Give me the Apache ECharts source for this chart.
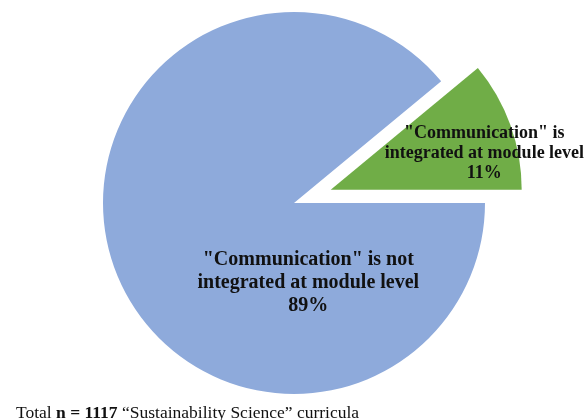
<!DOCTYPE html>
<html>
<head>
<meta charset="utf-8">
<script src="https://cdn.jsdelivr.net/npm/echarts@6/dist/echarts.min.js"></script>
<style>
html,body{margin:0;padding:0;background:#fff;}
#chart{width:588px;height:420px;}
</style>
</head>
<body>
<div id="chart"></div>
<script>
var categories = ['"Communication" is integrated at module level', '"Communication" is not integrated at module level'];
var labelLines = [['"Communication" is', 'integrated at module level'], ['"Communication" is not', 'integrated at module level']];
var values = [11, 89];
var colors = ['#70ad47', '#8eaadb'];
var footer = ['Total ', 'n = 1117 ', '\u201cSustainability Science\u201d curricula'];

var chart = echarts.init(document.getElementById('chart'), null, {renderer: 'canvas'});
var labelStyles = [
  {fontSize: 18, lineHeight: 20, shift: [61, -3]},
  {fontSize: 20, lineHeight: 23, shift: [0, 0]}
];
var data = values.map(function (v, i) {
  return {
    name: categories[i],
    value: v,
    selected: i === 0,
    itemStyle: {color: colors[i]},
    label: {
      fontSize: labelStyles[i].fontSize,
      lineHeight: labelStyles[i].lineHeight,
      offset: i === 1 ? [107, 46] : [0, 0]
    }
  };
});
chart.setOption({
  animation: false,
  title: {
    left: 11,
    top: 399,
    text: '{a|' + footer[0] + '}{b|' + footer[1] + '}{a|' + footer[2] + '}',
    textStyle: {
      fontWeight: 'normal',
      rich: {
        a: {fontFamily: 'Liberation Serif', fontSize: 17.5, fontWeight: 'normal', color: '#111'},
        b: {fontFamily: 'Liberation Serif', fontSize: 17.5, fontWeight: 'bold', color: '#111'}
      }
    }
  },
  series: [{
    type: 'pie',
    center: [294, 203],
    radius: 191,
    startAngle: 39.6,
    clockwise: true,
    selectedMode: 'single',
    selectedOffset: 39,
    avoidLabelOverlap: false,
    emphasis: {disabled: true},
    label: {
      show: true,
      position: 'inside',
      fontFamily: 'Liberation Serif',
      fontWeight: 'bold',
      color: '#111',
      align: 'center',
      formatter: function (p) {
        return labelLines[p.dataIndex].join('\n') + '\n' + p.percent.toFixed(0) + '%';
      }
    },
    labelLayout: function (p) {
      var s = labelStyles[p.dataIndex].shift;
      return {dx: s[0], dy: s[1]};
    },
    labelLine: {show: false},
    itemStyle: {borderWidth: 0},
    data: data
  }]
});
</script>
</body>
</html>
